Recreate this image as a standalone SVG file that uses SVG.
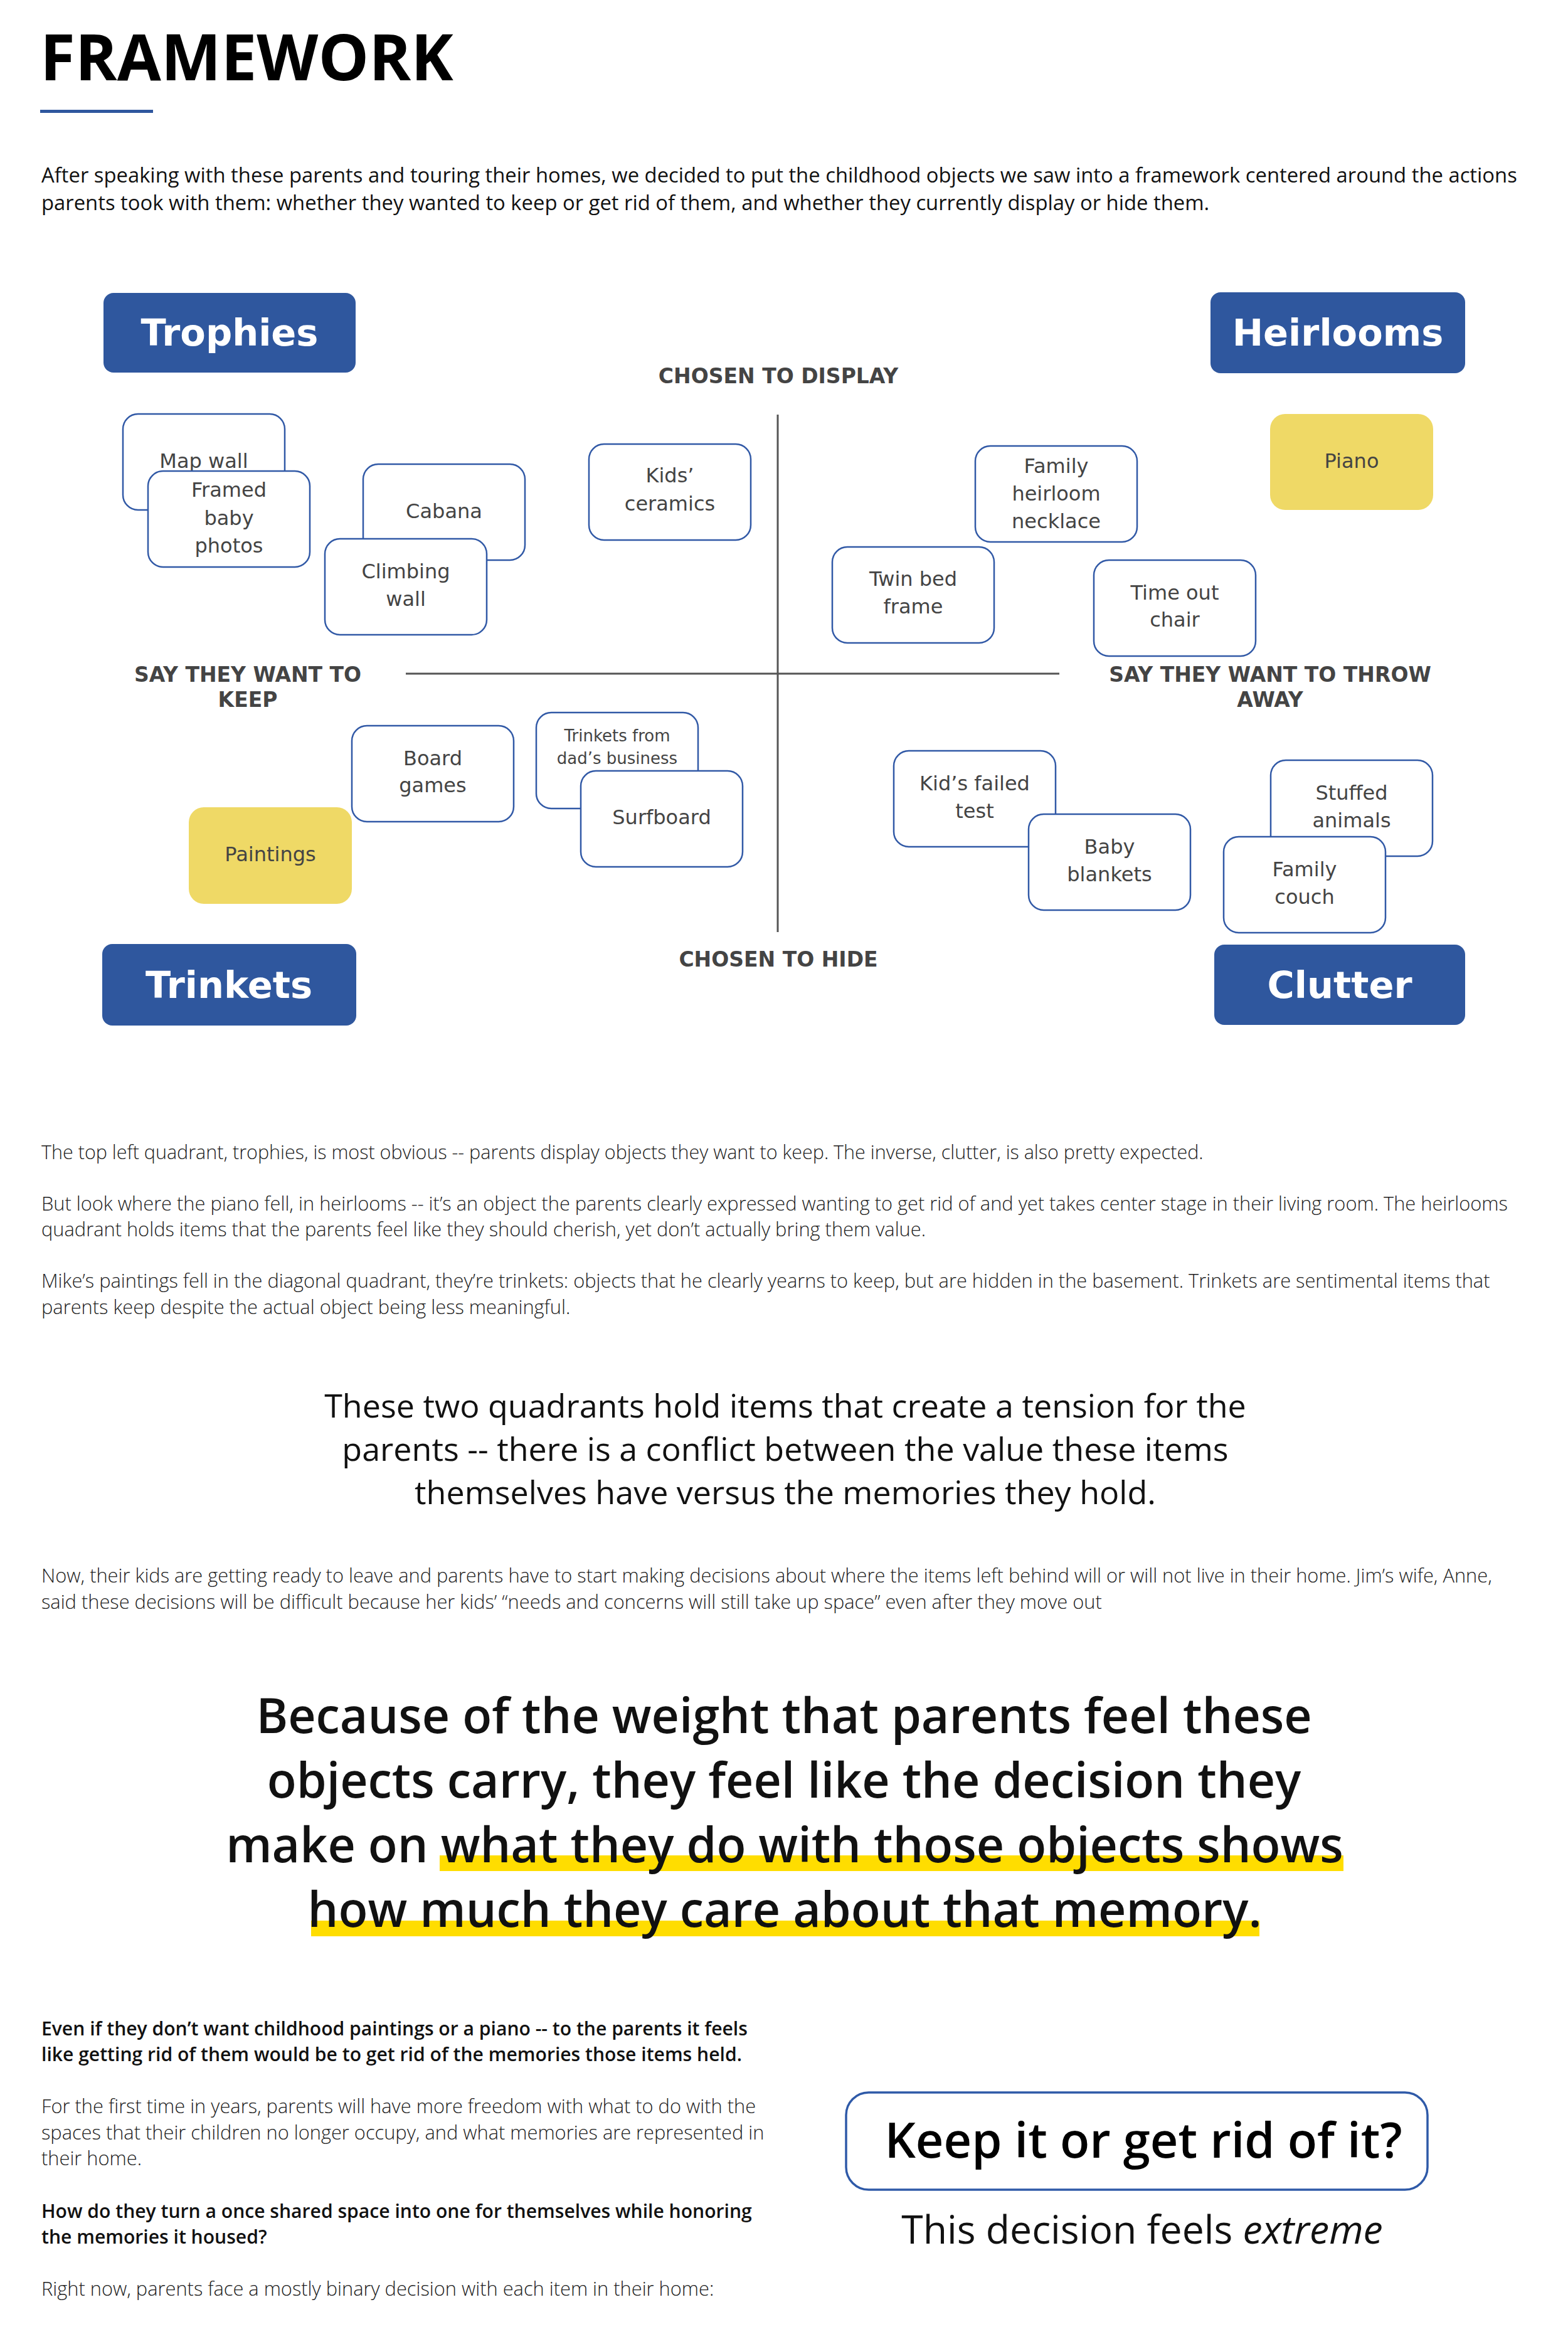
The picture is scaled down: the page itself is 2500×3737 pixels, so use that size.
<svg xmlns="http://www.w3.org/2000/svg" width="2500" height="3737" viewBox="0 0 2500 3737">
<style>
.bg{fill:#ffffff}
.quad rect{fill:#2F579E}
.quad text{font-family:"DejaVu Sans",Verdana,sans-serif;font-weight:bold;font-size:59px;fill:#ffffff;text-anchor:middle}
.node rect{fill:#ffffff;stroke:#3159A6;stroke-width:2.5}
.node.yellow rect{fill:#EFD966;stroke:none}
.node text{font-family:"DejaVu Sans",Verdana,sans-serif;font-size:32px;fill:#444444;text-anchor:middle}
.node text.small{font-size:26px}
.axis{stroke:#555555;stroke-width:3}
.axlab{font-family:"DejaVu Sans",Verdana,sans-serif;font-weight:bold;font-size:33px;fill:#444444;text-anchor:middle}
.title{font-family:"Open Sans","Noto Sans",sans-serif;font-weight:bold;font-size:101.5px;fill:#000000}
.intro{font-family:"Open Sans","Noto Sans",sans-serif;font-size:32.8px;fill:#111111}
.para{font-family:"Open Sans","Noto Sans",sans-serif;font-weight:300;font-size:30.8px;fill:#222222}
.para.p1{font-size:30.5px}
.parab{font-family:"Open Sans","Noto Sans",sans-serif;font-weight:600;font-size:30.1px;fill:#111111}
.q1{font-family:"Open Sans","Noto Sans",sans-serif;font-size:52px;fill:#111111;text-anchor:middle}
.q2{font-family:"Open Sans","Noto Sans",sans-serif;font-weight:600;font-size:77px;fill:#111111;text-anchor:middle}
.hl{fill:#FFDD00}
.keep{font-family:"Open Sans","Noto Sans",sans-serif;font-weight:600;font-size:77.5px;fill:#000000;text-anchor:middle}
.ext{font-family:"Open Sans","Noto Sans",sans-serif;font-size:62.5px;fill:#111111;text-anchor:middle}
</style>
<rect class="bg" x="0" y="0" width="2500" height="3737"/>

<text class="title" x="64" y="128">FRAMEWORK</text>
<rect x="64" y="175" width="180" height="5" fill="#2F579E"/>

<text class="intro" x="66" y="291">After speaking with these parents and touring their homes, we decided to put the childhood objects we saw into a framework centered around the actions</text>
<text class="intro" x="66" y="335">parents took with them: whether they wanted to keep or get rid of them, and whether they currently display or hide them.</text>

<g id="connectors">
<line class="axis" x1="1240" y1="661" x2="1240" y2="1486"/>
<line class="axis" x1="647" y1="1074" x2="1689" y2="1074"/>
</g>

<g id="axis-labels">
<text class="axlab" x="1241" y="611">CHOSEN TO DISPLAY</text>
<text class="axlab" x="1241" y="1541">CHOSEN TO HIDE</text>
<text class="axlab" x="395" y="1087">SAY THEY WANT TO</text>
<text class="axlab" x="395" y="1127">KEEP</text>
<text class="axlab" x="2025" y="1087">SAY THEY WANT TO THROW</text>
<text class="axlab" x="2025" y="1127">AWAY</text>
</g>

<g id="trophies" class="quad"><rect x="165" y="467" width="402" height="127" rx="16"/><text x="366" y="551">Trophies</text></g>
<g id="heirlooms" class="quad"><rect x="1930" y="466" width="406" height="129" rx="16"/><text x="2133" y="551">Heirlooms</text></g>
<g id="trinkets" class="quad"><rect x="163" y="1505" width="405" height="130" rx="16"/><text x="365" y="1591">Trinkets</text></g>
<g id="clutter" class="quad"><rect x="1936" y="1506" width="400" height="128" rx="16"/><text x="2136" y="1591">Clutter</text></g>

<g id="map-wall" class="node"><rect x="196" y="660" width="258" height="153" rx="24"/><text x="325" y="746">Map wall</text></g>
<g id="framed-baby-photos" class="node"><rect x="236" y="751" width="258" height="153" rx="24"/><text x="365" y="792">Framed</text><text x="365" y="837">baby</text><text x="365" y="881">photos</text></g>
<g id="cabana" class="node"><rect x="579" y="740" width="258" height="153" rx="24"/><text x="708" y="826">Cabana</text></g>
<g id="climbing-wall" class="node"><rect x="518" y="859" width="258" height="153" rx="24"/><text x="647" y="922">Climbing</text><text x="647" y="966">wall</text></g>
<g id="kids-ceramics" class="node"><rect x="939" y="708" width="258" height="153" rx="24"/><text x="1068" y="769">Kids’</text><text x="1068" y="814">ceramics</text></g>
<g id="family-heirloom-necklace" class="node"><rect x="1555" y="711" width="258" height="153" rx="24"/><text x="1684" y="754">Family</text><text x="1684" y="798">heirloom</text><text x="1684" y="842">necklace</text></g>
<g id="piano" class="node yellow"><rect x="2025" y="660" width="260" height="153" rx="24"/><text x="2155" y="746">Piano</text></g>
<g id="twin-bed-frame" class="node"><rect x="1327" y="872" width="258" height="153" rx="24"/><text x="1456" y="934">Twin bed</text><text x="1456" y="978">frame</text></g>
<g id="time-out-chair" class="node"><rect x="1744" y="893" width="258" height="153" rx="24"/><text x="1873" y="956">Time out</text><text x="1873" y="999">chair</text></g>

<g id="board-games" class="node"><rect x="561" y="1157" width="258" height="153" rx="24"/><text x="690" y="1220">Board</text><text x="690" y="1263">games</text></g>
<g id="trinkets-from-dads-business" class="node"><rect x="855" y="1136" width="258" height="153" rx="24"/><text class="small" x="984" y="1182">Trinkets from</text><text class="small" x="984" y="1218">dad’s business</text></g>
<g id="surfboard" class="node"><rect x="926" y="1229" width="258" height="153" rx="24"/><text x="1055" y="1314">Surfboard</text></g>
<g id="paintings" class="node yellow"><rect x="301" y="1287" width="260" height="154" rx="24"/><text x="431" y="1373">Paintings</text></g>
<g id="kids-failed-test" class="node"><rect x="1425" y="1197" width="258" height="153" rx="24"/><text x="1554" y="1260">Kid’s failed</text><text x="1554" y="1304">test</text></g>
<g id="baby-blankets" class="node"><rect x="1640" y="1298" width="258" height="153" rx="24"/><text x="1769" y="1361">Baby</text><text x="1769" y="1405">blankets</text></g>
<g id="stuffed-animals" class="node"><rect x="2026" y="1212" width="258" height="153" rx="24"/><text x="2155" y="1275">Stuffed</text><text x="2155" y="1319">animals</text></g>
<g id="family-couch" class="node"><rect x="1951" y="1334" width="258" height="153" rx="24"/><text x="2080" y="1397">Family</text><text x="2080" y="1441">couch</text></g>

<text class="para p1" x="66" y="1848">The top left quadrant, trophies, is most obvious -- parents display objects they want to keep. The inverse, clutter, is also pretty expected.</text>
<text class="para" x="66" y="1930">But look where the piano fell, in heirlooms -- it’s an object the parents clearly expressed wanting to get rid of and yet takes center stage in their living room. The heirlooms</text>
<text class="para" x="66" y="1971">quadrant holds items that the parents feel like they should cherish, yet don’t actually bring them value.</text>
<text class="para" x="66" y="2053">Mike’s paintings fell in the diagonal quadrant, they’re trinkets: objects that he clearly yearns to keep, but are hidden in the basement. Trinkets are sentimental items that</text>
<text class="para" x="66" y="2095">parents keep despite the actual object being less meaningful.</text>

<text class="q1" x="1252" y="2260">These two quadrants hold items that create a tension for the</text>
<text class="q1" x="1252" y="2329">parents -- there is a conflict between the value these items</text>
<text class="q1" x="1252" y="2398">themselves have versus the memories they hold.</text>

<text class="para" x="66" y="2523">Now, their kids are getting ready to leave and parents have to start making decisions about where the items left behind will or will not live in their home. Jim’s wife, Anne,</text>
<text class="para" x="66" y="2565">said these decisions will be difficult because her kids’ “needs and concerns will still take up space” even after they move out</text>

<rect class="hl" x="701" y="2958" width="1441" height="25"/>
<rect class="hl" x="496" y="3062" width="1512" height="25"/>
<text class="q2" x="1250" y="2763">Because of the weight that parents feel these</text>
<text class="q2" x="1250" y="2866">objects carry, they feel like the decision they</text>
<text class="q2" x="1251" y="2969">make on what they do with those objects shows</text>
<text class="q2" x="1251" y="3072">how much they care about that memory.</text>

<text class="parab" x="66" y="3245">Even if they don’t want childhood paintings or a piano -- to the parents it feels</text>
<text class="parab" x="66" y="3286">like getting rid of them would be to get rid of the memories those items held.</text>
<text class="para" x="66" y="3369">For the first time in years, parents will have more freedom with what to do with the</text>
<text class="para" x="66" y="3411">spaces that their children no longer occupy, and what memories are represented in</text>
<text class="para" x="66" y="3452">their home.</text>
<text class="parab" x="66" y="3536">How do they turn a once shared space into one for themselves while honoring</text>
<text class="parab" x="66" y="3577">the memories it housed?</text>
<text class="para" x="66" y="3660">Right now, parents face a mostly binary decision with each item in their home:</text>

<g id="keep-box">
<rect x="1349" y="3336" width="927" height="155" rx="36" fill="#ffffff" stroke="#2F5AA8" stroke-width="3.5"/>
<text class="keep" x="1823" y="3440">Keep it or get rid of it?</text>
</g>
<text class="ext" x="1821" y="3577">This decision feels <tspan font-style="italic">extreme</tspan></text>
</svg>
